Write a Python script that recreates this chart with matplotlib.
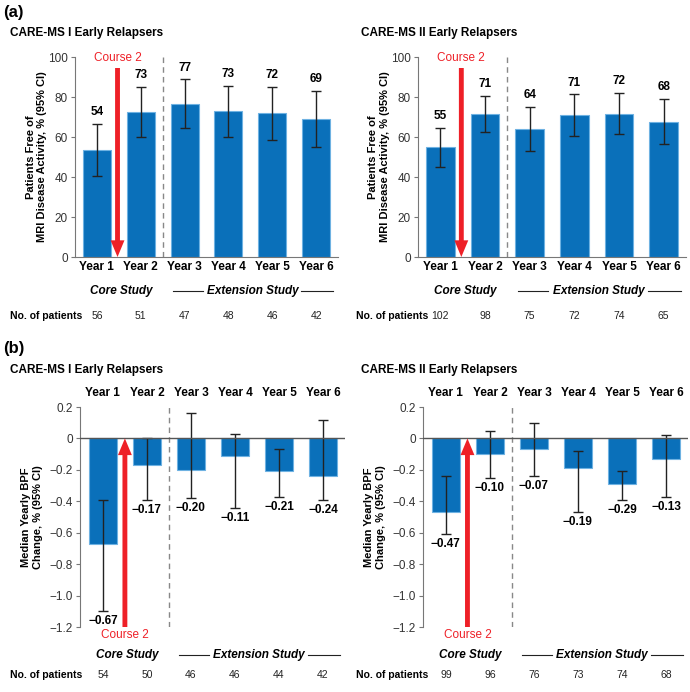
import matplotlib
matplotlib.use('Agg')
import matplotlib.pyplot as plt
import matplotlib.transforms as mtransforms

plt.rcParams['font.family'] = ['Liberation Sans', 'DejaVu Sans']
plt.rcParams['axes.unicode_minus'] = True

years = ['Year 1', 'Year 2', 'Year 3', 'Year 4', 'Year 5', 'Year 6']

# (a) MRI disease activity free, % (95% CI)
mri1_vals = [53.6, 72.6, 76.6, 73.0, 71.8, 69.0]
mri1_lo = [40.5, 60.2, 64.5, 60.2, 58.6, 55.0]
mri1_hi = [66.5, 85.0, 88.8, 85.5, 85.0, 83.0]
mri1_lbl = ['54', '73', '77', '73', '72', '69']
mri1_n = [56, 51, 47, 48, 46, 42]

mri2_vals = [55.0, 71.4, 64.0, 70.9, 71.6, 67.7]
mri2_lo = [45.2, 62.5, 53.0, 60.4, 61.4, 56.4]
mri2_hi = [64.6, 80.6, 75.0, 81.4, 82.0, 79.1]
mri2_lbl = ['55', '71', '64', '71', '72', '68']
mri2_n = [102, 98, 75, 72, 74, 65]

# (b) median yearly BPF change, % (95% CI)
bpf1_vals = [-0.67, -0.17, -0.20, -0.11, -0.21, -0.24]
bpf1_lo = [-1.10, -0.39, -0.38, -0.44, -0.37, -0.39]
bpf1_hi = [-0.39, 0.00, 0.16, 0.03, -0.07, 0.12]
bpf1_lbl = ['\u22120.67', '\u22120.17', '\u22120.20', '\u22120.11', '\u22120.21', '\u22120.24']
bpf1_n = [54, 50, 46, 46, 44, 42]

bpf2_vals = [-0.47, -0.10, -0.07, -0.19, -0.29, -0.13]
bpf2_lo = [-0.61, -0.25, -0.24, -0.47, -0.39, -0.37]
bpf2_hi = [-0.24, 0.05, 0.10, -0.08, -0.21, 0.02]
bpf2_lbl = ['\u22120.47', '\u22120.10', '\u22120.07', '\u22120.19', '\u22120.29', '\u22120.13']
bpf2_n = [99, 96, 76, 73, 74, 68]

blue = '#0A70BA'
edge = '#6EB2E2'
red = '#EE2027'
x = list(range(len(years)))


def footer(ax, fig, npat, y_study, y_n, left_px):
    tr = mtransforms.blended_transform_factory(ax.transData, ax.transAxes)
    ax.text(0.55, y_study, 'Core Study', transform=tr, ha='center', va='center',
            fontsize=8.5, fontweight='bold', fontstyle='italic')
    ax.text(3.55, y_study, 'Extension Study', transform=tr, ha='center', va='center',
            fontsize=8.5, fontweight='bold', fontstyle='italic')
    ax.plot([1.74, 2.42], [y_study, y_study], transform=tr, color='#222222', lw=0.8, clip_on=False)
    ax.plot([4.66, 5.38], [y_study, y_study], transform=tr, color='#222222', lw=0.8, clip_on=False)
    for i in x:
        ax.text(i, y_n, str(npat[i]), transform=tr, ha='center', va='center', fontsize=7.5, color='#222222')
    ax.text(left_px, y_n, 'No. of patients', transform=mtransforms.blended_transform_factory(fig.transFigure, ax.transAxes),
            ha='left', va='center', fontsize=7.5, fontweight='bold')


def mri_panel(ax, fig, vals, lo, hi, lbl, npat, title, title_px, left_px, arrow_x):
    err = [[v - l for v, l in zip(vals, lo)], [h - v for v, h in zip(vals, hi)]]
    ax.bar(x, vals, width=0.64, color=blue, edgecolor=edge, linewidth=0.8, zorder=2)
    ax.errorbar(x, vals, yerr=err, fmt='none', ecolor='#222222', elinewidth=1, capsize=3.5, capthick=1, zorder=3)
    for i in x:
        ax.annotate(lbl[i], (i, hi[i]), xytext=(0, 4), textcoords='offset points',
                    ha='center', va='bottom', fontsize=8.5, fontweight='bold')
    ax.set_xlim(-0.5, 5.5)
    ax.set_ylim(0, 100)
    ax.set_yticks([0, 20, 40, 60, 80, 100])
    ax.set_xticks(x)
    ax.set_xticklabels(years, fontsize=8.5, fontweight='bold')
    ax.tick_params(axis='x', length=0, pad=3)
    ax.tick_params(axis='y', labelsize=8.5, length=3, colors='#777777', labelcolor='#333333', pad=2)
    for s in ['top', 'right']:
        ax.spines[s].set_visible(False)
    ax.spines['left'].set_color('#777777')
    ax.spines['bottom'].set_color('#777777')
    ax.axvline(1.5, color='#888888', lw=1, ls=(0, (4, 3)), zorder=1)
    ax.annotate('', xy=(arrow_x, 0), xytext=(arrow_x, 94.5),
                arrowprops=dict(facecolor=red, edgecolor='none', width=3.5, headwidth=10,
                                headlength=12, shrink=0), annotation_clip=False, zorder=4)
    ax.text(arrow_x, 99.5, 'Course 2', color=red, ha='center', va='center', fontsize=8.5)
    ax.set_ylabel('Patients Free of\nMRI Disease Activity, % (95% CI)', fontsize=8, fontweight='bold')
    ax.yaxis.set_label_coords(-0.105, 0.5)
    ax.text(title_px, 1.12, title, transform=mtransforms.blended_transform_factory(fig.transFigure, ax.transAxes),
            ha='left', va='center', fontsize=8.5, fontweight='bold')
    footer(ax, fig, npat, -0.17, -0.295, left_px)


def bpf_panel(ax, fig, vals, lo, hi, lbl, npat, title, title_px, left_px, arrow_x):
    err = [[v - l for v, l in zip(vals, lo)], [h - v for v, h in zip(vals, hi)]]
    ax.bar(x, vals, width=0.64, color=blue, edgecolor=edge, linewidth=0.8, zorder=2)
    ax.errorbar(x, vals, yerr=err, fmt='none', ecolor='#222222', elinewidth=1, capsize=3.5, capthick=1, zorder=3)
    for i in x:
        ax.annotate(lbl[i], (i, lo[i]), xytext=(0, -3), textcoords='offset points',
                    ha='center', va='top', fontsize=8.5, fontweight='bold')
    ax.set_xlim(-0.52, 5.5)
    ax.set_ylim(-1.2, 0.2)
    ax.set_yticks([0.2, 0, -0.2, -0.4, -0.6, -0.8, -1.0, -1.2])
    ax.set_yticklabels(['0.2', '0', '\u22120.2', '\u22120.4', '\u22120.6', '\u22120.8', '\u22121.0', '\u22121.2'])
    ax.set_xticks(x)
    ax.set_xticklabels(years, fontsize=8.5, fontweight='bold')
    ax.xaxis.tick_top()
    ax.tick_params(axis='x', length=0, pad=6)
    ax.tick_params(axis='y', labelsize=8.5, length=3, colors='#777777', labelcolor='#333333', pad=2)
    for s in ['top', 'right', 'bottom']:
        ax.spines[s].set_visible(False)
    ax.spines['left'].set_color('#777777')
    ax.axhline(0, color='#555555', lw=1, zorder=4)
    ax.axvline(1.5, color='#888888', lw=1, ls=(0, (4, 3)), zorder=1)
    ax.annotate('', xy=(arrow_x, 0), xytext=(arrow_x, -1.2),
                arrowprops=dict(facecolor=red, edgecolor='none', width=3.5, headwidth=10,
                                headlength=12, shrink=0), annotation_clip=False, zorder=5)
    ax.text(arrow_x, -1.25, 'Course 2', color=red, ha='center', va='center', fontsize=8.5)
    ax.set_ylabel('Median Yearly BPF\nChange, % (95% CI)', fontsize=8, fontweight='bold')
    ax.yaxis.set_label_coords(-0.14, 0.5)
    ax.text(title_px, 1.17, title, transform=mtransforms.blended_transform_factory(fig.transFigure, ax.transAxes),
            ha='left', va='center', fontsize=8.5, fontweight='bold')
    footer(ax, fig, npat, -0.127, -0.218, left_px)


fig = plt.figure(figsize=(6.9, 6.92), dpi=100)
W, H = 690.0, 692.0

ax1 = fig.add_axes([75 / W, 1 - 257 / H, 263 / W, 200 / H])
ax2 = fig.add_axes([418 / W, 1 - 257 / H, 268 / W, 200 / H])
ax3 = fig.add_axes([80 / W, 1 - 627 / H, 265 / W, 220 / H])
ax4 = fig.add_axes([423 / W, 1 - 627 / H, 265 / W, 220 / H])

mri_panel(ax1, fig, mri1_vals, mri1_lo, mri1_hi, mri1_lbl, mri1_n, 'CARE-MS I Early Relapsers', 10 / W, 10 / W, 0.47)
mri_panel(ax2, fig, mri2_vals, mri2_lo, mri2_hi, mri2_lbl, mri2_n, 'CARE-MS II Early Relapsers', 361 / W, 356 / W, 0.47)
bpf_panel(ax3, fig, bpf1_vals, bpf1_lo, bpf1_hi, bpf1_lbl, bpf1_n, 'CARE-MS I Early Relapsers', 10 / W, 10 / W, 0.5)
bpf_panel(ax4, fig, bpf2_vals, bpf2_lo, bpf2_hi, bpf2_lbl, bpf2_n, 'CARE-MS II Early Relapsers', 361 / W, 356 / W, 0.49)

fig.text(3 / W, 1 - 13 / H, '(a)', fontsize=12, fontweight='bold', ha='left', va='center')
fig.text(3 / W, 1 - 348 / H, '(b)', fontsize=12, fontweight='bold', ha='left', va='center')

fig.savefig('out.png', dpi=100)
